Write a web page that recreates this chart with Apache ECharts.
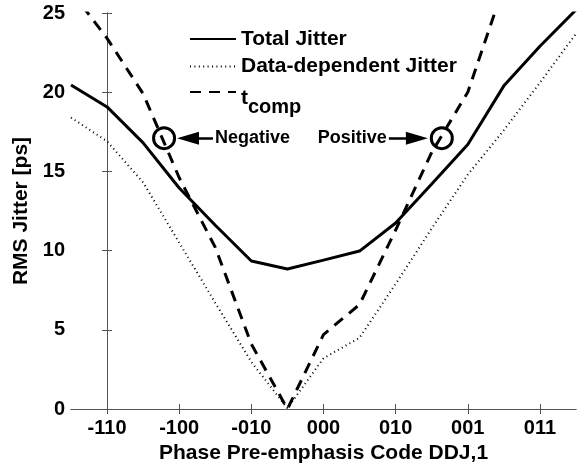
<!DOCTYPE html>
<html>
<head>
<meta charset="utf-8">
<script src="https://cdn.jsdelivr.net/npm/echarts@6/dist/echarts.min.js"></script>
<style>
  html, body { margin: 0; padding: 0; background: #fff; }
  #chart { width: 580px; height: 465px; }
</style>
</head>
<body>
<div id="chart"></div>
<script>
// Phase pre-emphasis codes (tick positions 0..6 on the sweep axis)
const codeLabels = ['-110', '-100', '-010', '000', '010', '001', '011'];
const codePos = [0, 1, 2, 3, 4, 5, 6];

// Sweep positions (half-code steps)
const sweepPos = [-0.5, 0, 0.5, 1, 1.5, 2, 2.5, 3, 3.5, 4, 4.5, 5, 5.5, 6, 6.5];

// RMS jitter in ps
const totalJitter = [20.45, 19.07, 16.8, 13.95, 11.6, 9.34, 8.84, 9.4, 9.97, 11.74, 14.2, 16.7, 20.4, 22.9, 25.2];
const ddJitter    = [18.4, 16.9, 14.3, 10.5, 6.7, 2.97, 0.05, 3.2, 4.5, 7.9, 11.4, 14.8, 17.6, 20.6, 23.7];
const tComp       = [26.4, 23.4, 19.9, 14.6, 10.2, 4.1, 0, 4.7, 6.6, 11.3, 16.2, 20.0, 26.7, null, null];

// Highlighted crossing points and their labels
const markerPos = [0.79, 4.64];
const markerLevel = 17.1;
const markerNames = ['Negative', 'Positive'];
// Arrow spans: [label end, arrow head centre]
const arrowSpans = [[1.468, 1.122], [3.906, 4.294]];

const FONT = "'Liberation Sans', Arial, Helvetica, sans-serif";
const AXIS_COLOR = '#555';

function pairs(xs, ys) {
  return xs.map((x, i) => [x, ys[i]]);
}

const chart = echarts.init(document.getElementById('chart'), null, { renderer: 'canvas' });

const hiddenAxisLabel = { show: false };
const tickStyle = { inside: true, length: 5, lineStyle: { color: AXIS_COLOR, width: 1 } };

// One legend block per entry so each row sits exactly where it should
const legendBase = {
  orient: 'vertical',
  left: 189,
  padding: 0,
  itemWidth: 46,
  itemHeight: 20,
  selectedMode: false,
  itemStyle: { color: 'rgba(0,0,0,0)', borderWidth: 0 },
  textStyle: { fontFamily: FONT, fontSize: 21, fontWeight: 'bold', color: '#000', lineHeight: 20 }
};

chart.setOption({
  animation: false,
  backgroundColor: '#fff',
  textStyle: { fontFamily: FONT },
  grid: { left: 71, right: 4, top: 13, bottom: 56, containLabel: false, outerBoundsMode: 'none' },
  legend: [
    Object.assign({}, legendBase, { top: 28.5, data: ['Total Jitter'] }),
    Object.assign({}, legendBase, { top: 56, data: ['Data-dependent Jitter'] }),
    Object.assign({}, legendBase, {
      top: 66.5,
      data: ['t_comp'],
      formatter: function () { return '{t|t}{s|comp}'; },
      textStyle: {
        fontFamily: FONT, fontSize: 21, fontWeight: 'bold', color: '#000',
        rich: {
          t: { fontFamily: FONT, fontSize: 21, fontWeight: 'bold', color: '#000', lineHeight: 20, padding: [13, 0, 0, 0] },
          s: { fontFamily: FONT, fontSize: 20, fontWeight: 'bold', color: '#000', lineHeight: 20, padding: [31, 0, 0, 0] }
        }
      }
    })
  ],
  xAxis: [
    {
      type: 'value',
      position: 'bottom',
      min: -0.5,
      max: 6.5,
      name: 'Phase Pre-emphasis Code DDJ,1',
      nameLocation: 'middle',
      nameGap: 27,
      nameTextStyle: { fontFamily: FONT, fontSize: 21, fontWeight: 'bold', color: '#000' },
      axisLine: { show: true, lineStyle: { color: AXIS_COLOR, width: 1 } },
      axisTick: Object.assign({ customValues: codePos }, tickStyle),
      axisLabel: {
        customValues: codePos,
        formatter: function (v) { return codeLabels[Math.round(v)]; },
        fontFamily: FONT, fontSize: 20, fontWeight: 'bold', color: '#000', margin: 9
      },
      splitLine: { show: false }
    },
    {
      type: 'value',
      position: 'top',
      min: -0.5,
      max: 6.5,
      axisLine: { show: true, lineStyle: { color: AXIS_COLOR, width: 1 } },
      axisTick: Object.assign({ customValues: codePos }, tickStyle),
      axisLabel: hiddenAxisLabel,
      splitLine: { show: false }
    }
  ],
  yAxis: [
    {
      type: 'value',
      position: 'left',
      min: 0,
      max: 25,
      interval: 5,
      name: 'RMS Jitter [ps]',
      nameLocation: 'middle',
      nameRotate: 90,
      nameGap: 38,
      nameTextStyle: { fontFamily: FONT, fontSize: 21, fontWeight: 'bold', color: '#000' },
      axisLine: { show: true, lineStyle: { color: AXIS_COLOR, width: 1 } },
      axisTick: tickStyle,
      axisLabel: { fontFamily: FONT, fontSize: 20, fontWeight: 'bold', color: '#000', margin: 6 },
      splitLine: { show: false }
    },
    {
      type: 'value',
      position: 'right',
      min: 0,
      max: 25,
      interval: 5,
      axisLine: { show: true, lineStyle: { color: AXIS_COLOR, width: 1 } },
      axisTick: tickStyle,
      axisLabel: hiddenAxisLabel,
      splitLine: { show: false }
    }
  ],
  series: [
    {
      name: 'Total Jitter',
      type: 'line',
      data: pairs(sweepPos, totalJitter),
      symbol: 'none',
      clip: true,
      lineStyle: { color: '#000', width: 3, type: 'solid' },
      itemStyle: { color: '#000' }
    },
    {
      name: 'Data-dependent Jitter',
      type: 'line',
      data: pairs(sweepPos, ddJitter),
      symbol: 'none',
      clip: true,
      lineStyle: { color: '#000', width: 2, type: [1, 3.4] },
      itemStyle: { color: '#000' }
    },
    {
      name: 't_comp',
      type: 'line',
      data: pairs(sweepPos, tComp),
      symbol: 'none',
      clip: true,
      connectNulls: false,
      lineStyle: { color: '#000', width: 3, type: [11, 8] },
      itemStyle: { color: '#000' }
    },
    {
      name: 'markers',
      type: 'scatter',
      data: markerPos.map(x => [x, markerLevel]),
      symbol: 'circle',
      symbolSize: 21,
      silent: true,
      itemStyle: { color: 'rgba(0,0,0,0)', borderColor: '#000', borderWidth: 3, opacity: 1 },
      markLine: {
        silent: true,
        animation: false,
        symbol: ['none', 'triangle'],
        itemStyle: { color: '#000', opacity: 1 },
        lineStyle: { color: '#000', width: 2.5, type: 'solid', opacity: 1 },
        label: {
          show: true,
          position: 'start',
          formatter: '{b}',
          distance: 2,
          fontFamily: FONT, fontSize: 18, fontWeight: 'bold', color: '#000'
        },
        emphasis: { disabled: true },
        data: arrowSpans.map((span, i) => [
          { name: markerNames[i], coord: [span[0], markerLevel], symbol: 'none' },
          { coord: [span[1], markerLevel], symbol: 'triangle', symbolSize: [13, 22] }
        ])
      }
    }
  ]
});
</script>
</body>
</html>
